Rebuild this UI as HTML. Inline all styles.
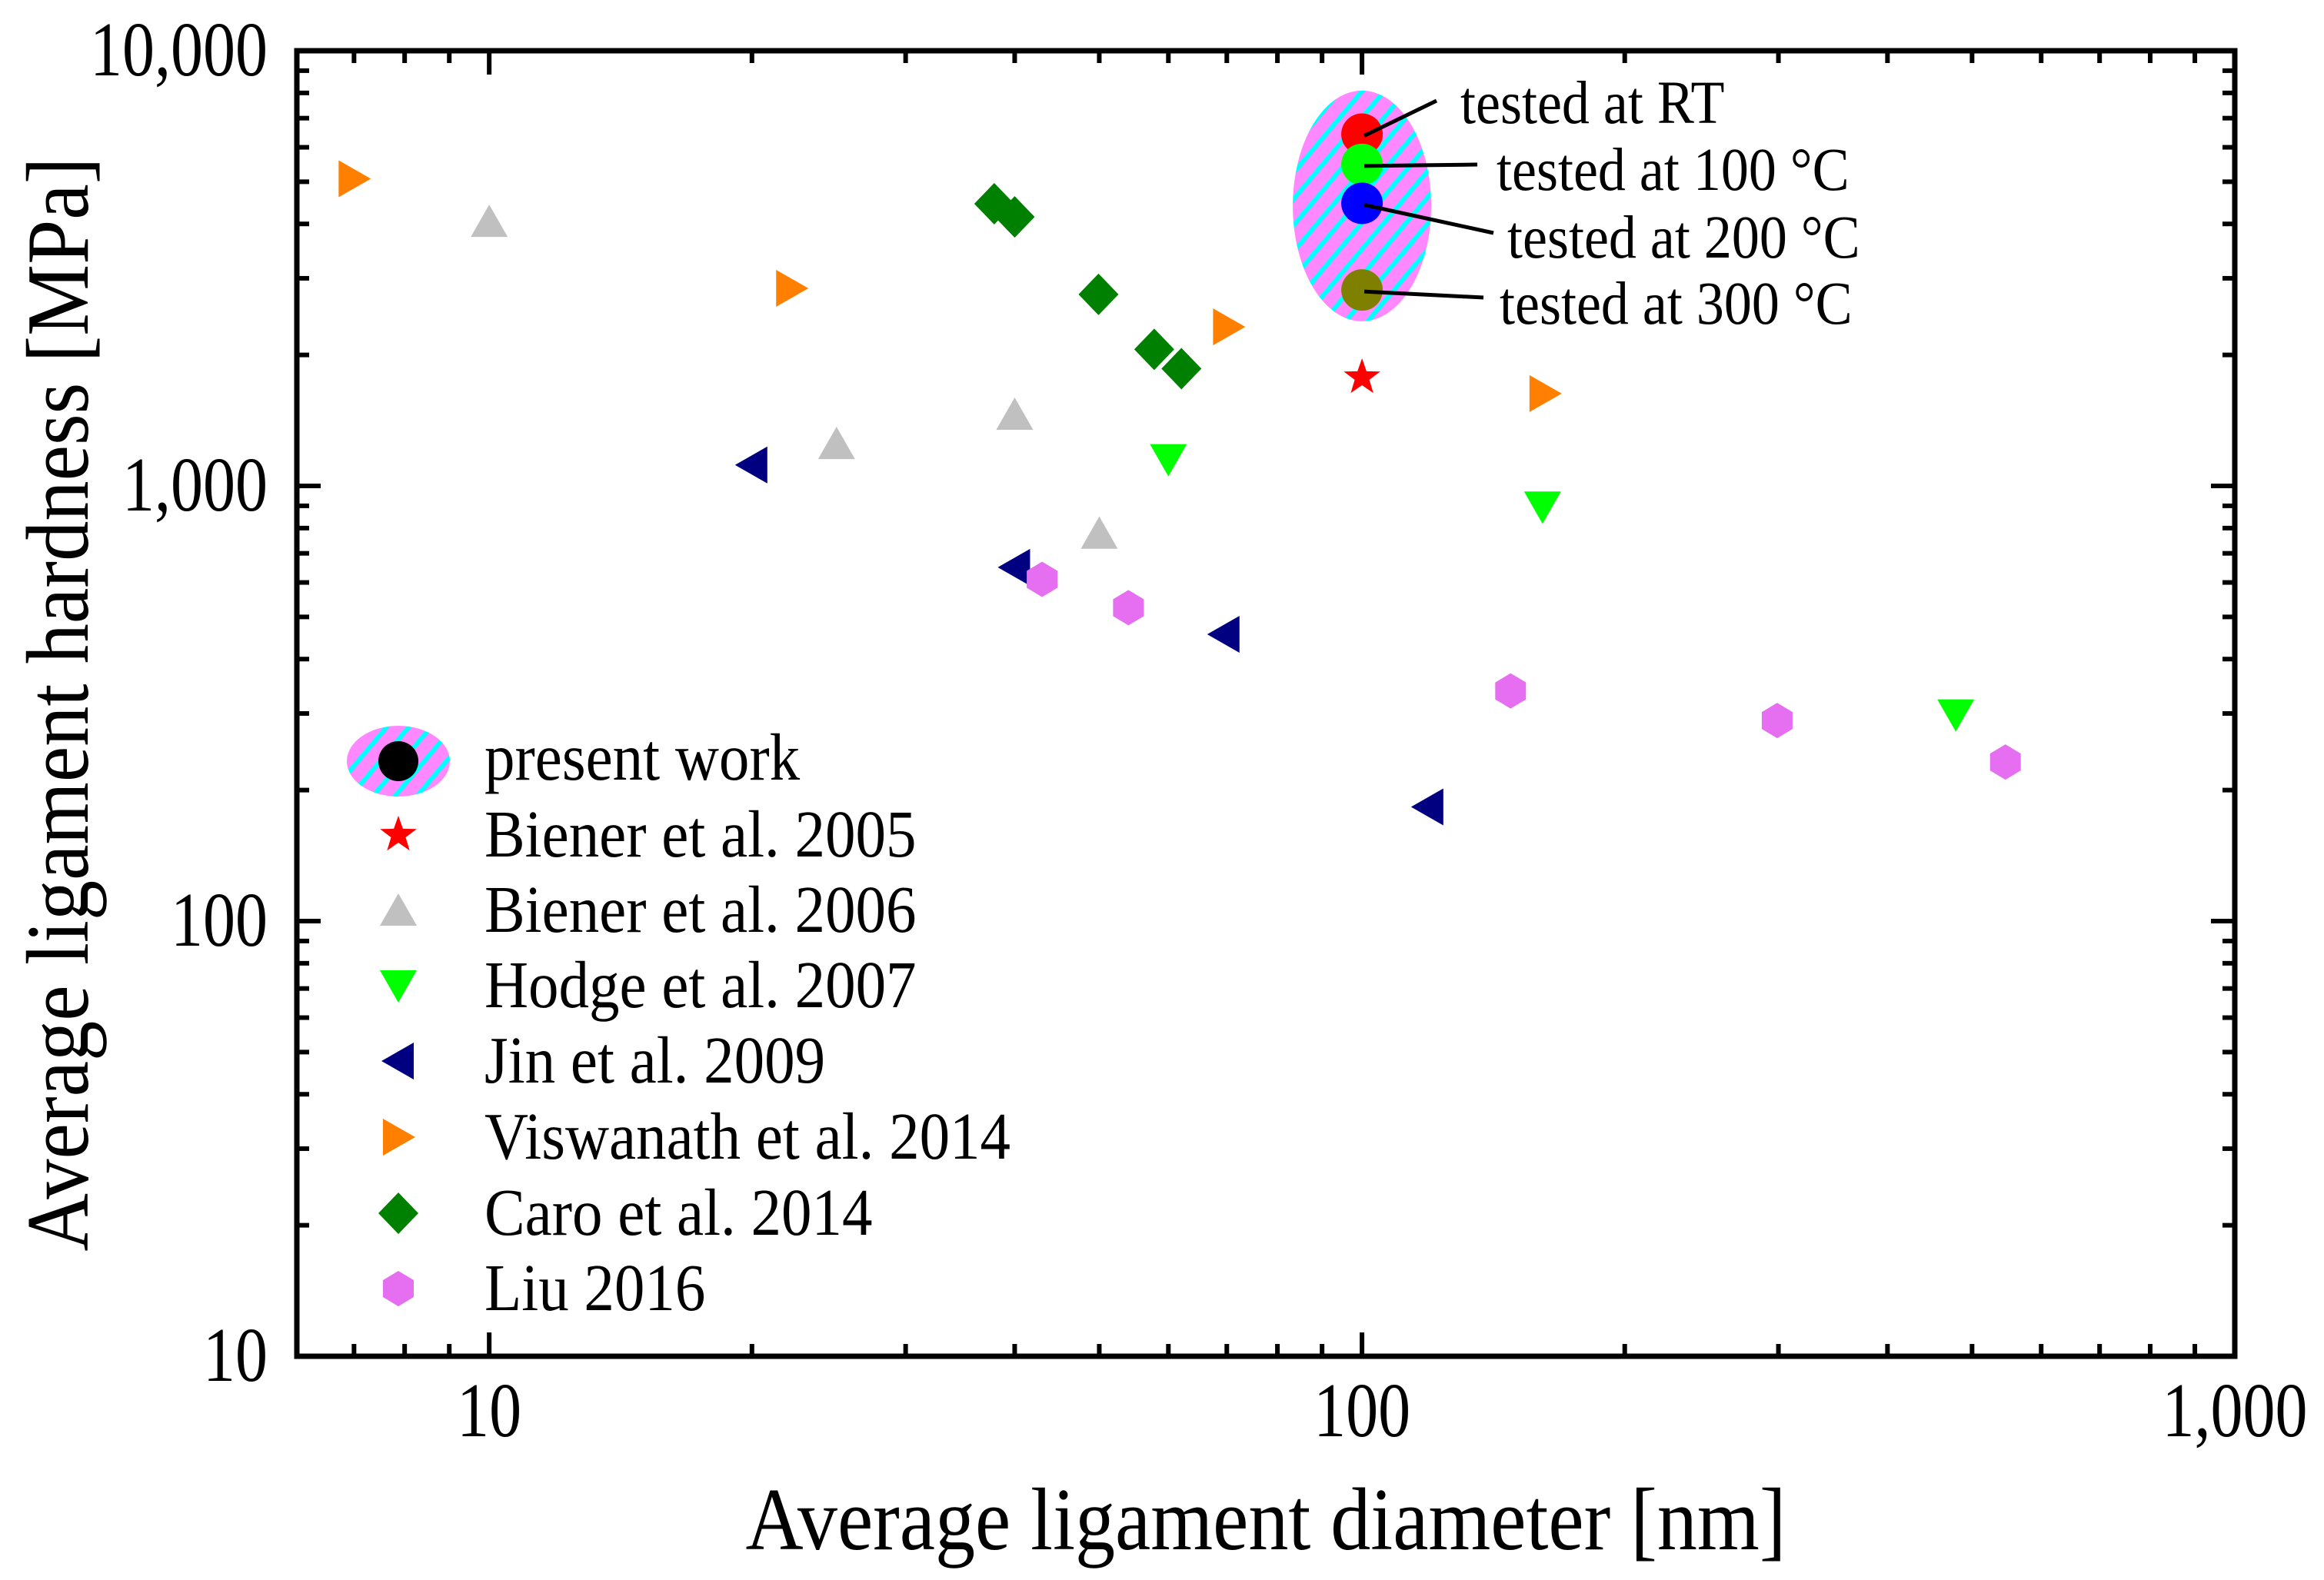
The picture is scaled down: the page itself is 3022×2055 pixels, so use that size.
<!DOCTYPE html>
<html><head><meta charset="utf-8"><style>
html,body{margin:0;padding:0;background:#fff;}
svg{display:block;font-family:"Liberation Serif",serif;}
</style></head><body>
<svg id="chart" width="3022" height="2055" viewBox="0 0 3022 2055" xmlns="http://www.w3.org/2000/svg">
<defs>
<pattern id="stripes" patternUnits="userSpaceOnUse" width="22" height="22" patternTransform="rotate(40)">
<rect width="22" height="22" fill="#ff88ff"/>
<rect width="6" height="22" fill="#00ffff"/>
</pattern>
</defs>
<g id="axes"></g>
<g id="marks"></g>
<g id="legend"></g>
<text transform="translate(1646,2015) scale(1,1.15)" x="0" y="0" font-size="100" text-anchor="middle" textLength="1353" lengthAdjust="spacingAndGlyphs">Average ligament diameter [nm]</text>
<text transform="translate(114,916) rotate(-90) scale(1,1.15)" font-size="100" text-anchor="middle" textLength="1423" lengthAdjust="spacingAndGlyphs">Average ligament hardness [MPa]</text>
</svg>
<script>
// ---- data ----
const presentX = [100, 100, 100, 100];
const presentY = [6430, 5480, 4460, 2820];
const presentColors = ['#ff0000', '#00ff00', '#0000ff', '#808000'];
const presentLabels = ['tested at RT', 'tested at 100 °C', 'tested at 200 °C', 'tested at 300 °C'];
const biener2005X = [100];
const biener2005Y = [1775];
const biener2006X = [10, 25, 40, 50];
const biener2006Y = [4050, 1250, 1460, 778];
const hodgeX = [60, 161, 479];
const hodgeY = [1150, 895, 298];
const jinX = [20, 40, 69.5, 119];
const jinY = [1117, 650, 456, 183];
const viswX = [7.0, 22.2, 70.3, 162];
const viswY = [5080, 2845, 2320, 1630];
const caroX = [37.9, 40, 49.9, 57.8, 62.1];
const caroY = [4450, 4150, 2755, 2060, 1860];
const liuX = [43, 54, 148, 299, 546];
const liuY = [610, 525, 338, 289, 232];
const xTickValues = [10, 100, 1000];
const xTickLabels = ['10', '100', '1,000'];
const yTickValues = [10, 100, 1000, 10000];
const yTickLabels = ['10', '100', '1,000', '10,000'];
const legendLabels = ['present work', 'Biener et al. 2005', 'Biener et al. 2006', 'Hodge et al. 2007', 'Jin et al. 2009', 'Viswanath et al. 2014', 'Caro et al. 2014', 'Liu 2016'];

// ---- scales ----
const L = 386, R = 2906, T = 66, B = 1764;
const XMIN = 6.02, XMAX = 1000, YMIN = 10, YMAX = 10000;
function sx(v){ return L + (Math.log10(v) - Math.log10(XMIN)) / (Math.log10(XMAX) - Math.log10(XMIN)) * (R - L); }
function sy(v){ return B - (Math.log10(v) - Math.log10(YMIN)) / (Math.log10(YMAX) - Math.log10(YMIN)) * (B - T); }
const NS = 'http://www.w3.org/2000/svg';
function mk(tag, attrs, parent){ const e = document.createElementNS(NS, tag); for (const k in attrs) e.setAttribute(k, attrs[k]); parent.appendChild(e); return e; }
function txt(x, y, size, sy_, anchor, parent){ return mk('text', {transform: `translate(${x},${y}) scale(1,${sy_})`, x: 0, y: 0, 'font-size': size, 'text-anchor': anchor}, parent); }

const axes = document.getElementById('axes');
const frame = mk('rect', {x: L, y: T, width: R - L, height: B - T, fill: 'none', stroke: '#000', 'stroke-width': 7}, axes);


// x ticks
for (let d = 1; d <= 1000; d *= 10) {
  for (let m = 1; m <= 9; m++) {
    const v = d * m;
    if (v < XMIN || v > XMAX) continue;
    const x = sx(v), len = m === 1 ? 31 : 16;
    const t1 = mk('line', {x1: x, x2: x, y1: B, y2: B - len, stroke: '#000', 'stroke-width': 6}, axes);
    
    
    const t2 = mk('line', {x1: x, x2: x, y1: T, y2: T + len, stroke: '#000', 'stroke-width': 6}, axes);
    
    
  }
}
// y ticks
for (let d = 10; d <= 10000; d *= 10) {
  for (let m = 1; m <= 9; m++) {
    const v = d * m;
    if (v > YMAX) continue;
    const y = sy(v), len = m === 1 ? 31 : 16;
    const t1 = mk('line', {x1: L, x2: L + len, y1: y, y2: y, stroke: '#000', 'stroke-width': 6}, axes);
    
    
    const t2 = mk('line', {x1: R, x2: R - len, y1: y, y2: y, stroke: '#000', 'stroke-width': 6}, axes);
    
    
  }
}
xTickValues.forEach((v, i) => {
  const t = txt(sx(v), 1868, 84, 1.2, 'middle', axes);
  t.textContent = xTickLabels[i];
  
  
});
yTickValues.forEach((v, i) => {
  const t = txt(348, sy(v) + 32, 84, 1.2, 'end', axes);
  t.textContent = yTickLabels[i];
  
  
});

// ---- marker shapes ----
function shape(kind, cx, cy, color, parent){
  let el;
  if (kind === 'up') el = mk('polygon', {points: `${cx-24},${cy+20} ${cx+24},${cy+20} ${cx},${cy-22}`, fill: color}, parent);
  else if (kind === 'down') el = mk('polygon', {points: `${cx-24},${cy-20} ${cx+24},${cy-20} ${cx},${cy+22}`, fill: color}, parent);
  else if (kind === 'left') el = mk('polygon', {points: `${cx+20},${cy-24} ${cx+20},${cy+24} ${cx-22},${cy}`, fill: color}, parent);
  else if (kind === 'right') el = mk('polygon', {points: `${cx-20},${cy-24} ${cx-20},${cy+24} ${cx+22},${cy}`, fill: color}, parent);
  else if (kind === 'diamond') el = mk('polygon', {points: `${cx},${cy-27} ${cx+26},${cy} ${cx},${cy+27} ${cx-26},${cy}`, fill: color}, parent);
  else if (kind === 'hex') el = mk('polygon', {points: `${cx},${cy-23} ${cx+20},${cy-11} ${cx+20},${cy+11} ${cx},${cy+23} ${cx-20},${cy+11} ${cx-20},${cy-11}`, fill: color}, parent);
  else if (kind === 'star') {
    let p = [];
    for (let k = 0; k < 10; k++) { const r = k % 2 ? 10 : 25, a = -Math.PI/2 + k*Math.PI/5; p.push((cx + r*Math.cos(a)).toFixed(1) + ',' + (cy + r*Math.sin(a)).toFixed(1)); }
    el = mk('polygon', {points: p.join(' '), fill: color}, parent);
  }
  return el;
}

const marks = document.getElementById('marks');
const ellX = sx(100), ellY = (sy(presentY[0]) + sy(presentY[3])) / 2 - 8;
const ell = mk('ellipse', {cx: ellX, cy: ellY, rx: 90, ry: 150, fill: 'url(#stripes)'}, marks);


const annoEnds = [[1868, 131, 1899, 160], [1921, 214, 1946, 247], [1942, 303, 1960, 335], [1929, 387, 1950, 421]];
presentX.forEach((v, i) => {
  const c = mk('circle', {cx: sx(v), cy: sy(presentY[i]), r: 27, fill: presentColors[i]}, marks);
  
  
});
presentX.forEach((v, i) => {
  const ln = mk('line', {x1: sx(v) + 3, y1: sy(presentY[i]) + 2, x2: annoEnds[i][0], y2: annoEnds[i][1], stroke: '#000', 'stroke-width': 5}, marks);
  
  
  const t = txt(annoEnds[i][2], annoEnds[i][3], 72, 1.1, 'start', marks);
  t.textContent = presentLabels[i];
  
  
});
const series = [
  [biener2005X, biener2005Y, 'star', '#ff0000', 'biener-2005-point'],
  [biener2006X, biener2006Y, 'up', '#c0c0c0', 'biener-2006-point'],
  [hodgeX, hodgeY, 'down', '#00ff00', 'hodge-2007-point'],
  [jinX, jinY, 'left', '#000080', 'jin-2009-point'],
  [viswX, viswY, 'right', '#ff8000', 'viswanath-2014-point'],
  [caroX, caroY, 'diamond', '#008000', 'caro-2014-point'],
  [liuX, liuY, 'hex', '#e66ef0', 'liu-2016-point']
];
series.forEach(s => {
  s[0].forEach((v, i) => {
    const el = shape(s[2], sx(v), sy(s[1][i]), s[3], marks);
    
    
  });
});

// ---- legend ----
const leg = document.getElementById('legend');
const legBase = [1014, 1114, 1212, 1310, 1408, 1507, 1606, 1704];
const le = mk('ellipse', {cx: 518, cy: 990, rx: 67, ry: 46, fill: 'url(#stripes)'}, leg);


const lc = mk('circle', {cx: 518, cy: 990, r: 26, fill: '#000'}, leg);


series.forEach((s, i) => {
  const el = shape(s[2], 518, legBase[i + 1] - 28, s[3], leg);
  
  
});
legendLabels.forEach((lab, i) => {
  const t = txt(630, legBase[i], 79, 1.1, 'start', leg);
  t.textContent = lab;
  
  
});
</script>
</body></html>
